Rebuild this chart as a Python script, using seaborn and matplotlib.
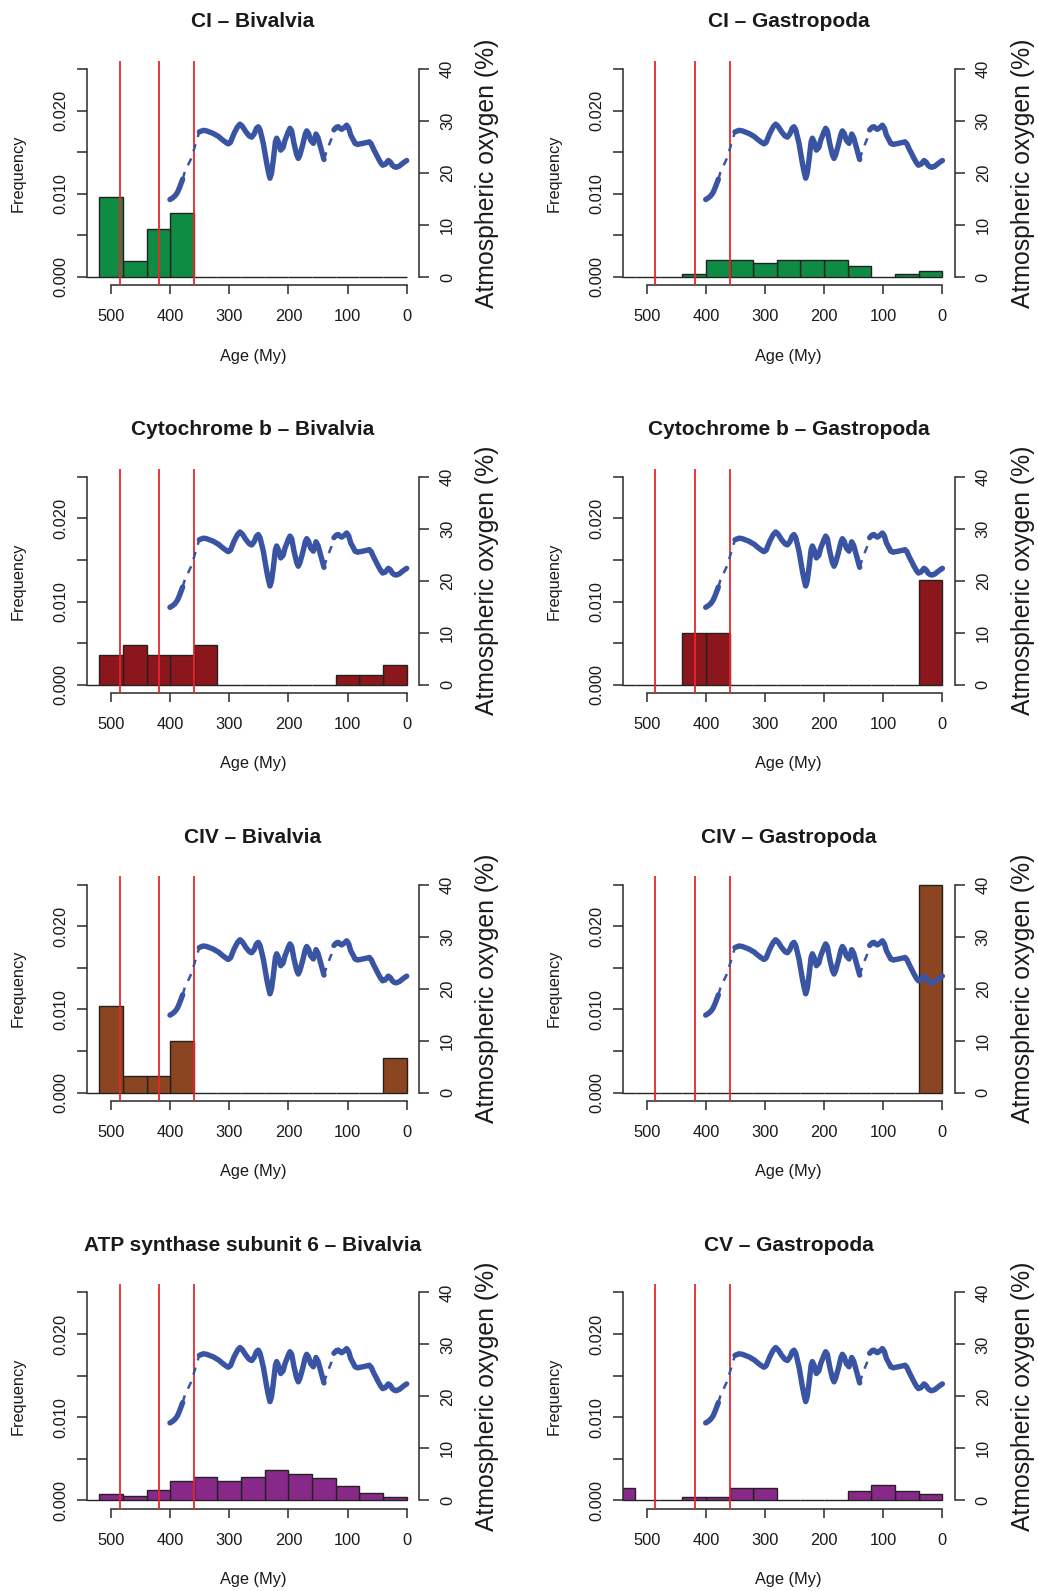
import matplotlib
matplotlib.use("Agg")
import matplotlib.pyplot as plt
import numpy as np
import pandas as pd
import seaborn as sns

# ---------------- data ----------------
BIN_EDGES = [560, 520, 480, 440, 400, 360, 320, 280, 240, 200, 160, 120, 80, 40, 0]

# density per 40-My bin, oldest (560-520) to youngest (40-0)
ci_bivalvia = [0, 0.00959, 0.00193, 0.00574, 0.0077, 0, 0, 0, 0, 0, 0, 0, 0, 0]
ci_gastropoda = [0, 0, 0, 0.00032, 0.0020, 0.0020, 0.00165, 0.0020, 0.0020, 0.0020, 0.0013, 0, 0.00032, 0.00068]
cytb_bivalvia = [0, 0.00358, 0.00478, 0.00358, 0.00358, 0.00478, 0, 0, 0, 0, 0, 0.00117, 0.00117, 0.00237]
cytb_gastropoda = [0, 0, 0, 0.00627, 0.00627, 0, 0, 0, 0, 0, 0, 0, 0, 0.01254]
civ_bivalvia = [0, 0.01043, 0.00205, 0.00205, 0.00626, 0, 0, 0, 0, 0, 0, 0, 0, 0.00417]
civ_gastropoda = [0, 0, 0, 0, 0, 0, 0, 0, 0, 0, 0, 0, 0, 0.025]
atp6_bivalvia = [0, 0.00072, 0.00056, 0.00121, 0.00237, 0.00281, 0.00233, 0.00277, 0.00362, 0.00314, 0.00265, 0.00173, 0.00092, 0.00036]
cv_gastropoda = [0.00144, 0, 0, 0.0004, 0.0004, 0.00144, 0.00144, 0, 0, 0, 0.00108, 0.00181, 0.00108, 0.00072]

titles = ["CI \u2013 Bivalvia", "CI \u2013 Gastropoda",
          "Cytochrome b \u2013 Bivalvia", "Cytochrome b \u2013 Gastropoda",
          "CIV \u2013 Bivalvia", "CIV \u2013 Gastropoda",
          "ATP synthase subunit 6 \u2013 Bivalvia", "CV \u2013 Gastropoda"]
series = [ci_bivalvia, ci_gastropoda, cytb_bivalvia, cytb_gastropoda,
          civ_bivalvia, civ_gastropoda, atp6_bivalvia, cv_gastropoda]
row_colors = ["#0E8C44", "#8B161B", "#8B4520", "#88298A"]

# geological boundaries (My)
boundaries = [485.4, 419.2, 358.9]

# atmospheric oxygen curve (%), split in solid / dashed segments
o2_solid1_age = [400.3, 396, 391.9, 388, 384.5, 378.9]
o2_solid1_pct = [14.9, 15.2, 15.6, 16.2, 17.1, 18.8]
o2_dash1_age = [378.9, 375, 369, 363.6, 357, 350.7]
o2_dash1_pct = [18.8, 20.3, 21.7, 23.0, 25.6, 27.9]
o2_solid2_age = [350.7, 344, 338.3, 327, 318, 312.9, 306, 301.7, 298, 292, 286, 282, 278,
                 271.8, 266, 262.1, 258, 254, 251, 248, 242.5, 236.8, 234, 231.2, 228.5,
                 225.6, 222, 219.9, 217, 213.1, 209, 205.8, 200, 197.4, 194.5, 190.6, 186,
                 183.3, 180.5, 175.9, 171.5, 169.1, 166, 162.4, 157.9, 155.5, 153.4, 150,
                 146.6, 139.9]
o2_solid2_pct = [27.9, 28.2, 28.1, 27.6, 27.0, 26.5, 25.9, 25.6, 25.9, 27.6, 28.9, 29.4, 29.0,
                 27.9, 27.1, 26.9, 27.5, 28.6, 28.9, 28.3, 25.7, 21.9, 20.3, 19.0, 20.0,
                 22.5, 26.0, 26.7, 26.0, 24.4, 24.9, 26.3, 28.0, 28.6, 28.1, 25.7, 23.5,
                 22.8, 23.5, 25.4, 27.5, 28.1, 27.6, 26.3, 25.7, 26.6, 27.5, 26.8,
                 25.4, 22.6]
o2_dash2_age = [139.9, 134.3, 126.8, 123]
o2_dash2_pct = [22.6, 24.6, 26.7, 28.3]
o2_solid3_age = [123, 119, 115.7, 113, 110, 105, 101.5, 98, 94.7, 90, 87.4, 83, 79, 74,
                 70.5, 66, 63.2, 60, 56.5, 52, 48, 44, 40.6, 36, 31.1, 27.5, 24.4, 21,
                 18.1, 13, 8.5, 4, 0]
o2_solid3_pct = [28.3, 28.8, 28.9, 28.6, 28.4, 28.8, 29.2, 28.6, 27.3, 26.3, 25.7, 25.5,
                 25.6, 25.7, 25.8, 25.9, 26.0, 25.6, 24.7, 23.7, 22.8, 22.0, 21.5, 21.7,
                 22.4, 22.1, 21.5, 21.2, 21.1, 21.3, 21.7, 22.1, 22.4]

freq_ticks = [0, 0.005, 0.010, 0.015, 0.020, 0.025]
freq_labels = ["0.000", "", "0.010", "", "0.020", ""]
age_ticks = [500, 400, 300, 200, 100, 0]
o2_ticks = [0, 10, 20, 30, 40]

# ---------------- style ----------------
sns.set_style("white")
plt.rcParams["font.family"] = ["Liberation Sans", "DejaVu Sans"]
TXT = "#1a1a1a"
AX = "#2a2a2a"
BLUE = "#3A54A4"
RED = "#E8262B"

W, H = 1038, 1591
fig = plt.figure(figsize=(W / 100, H / 100), dpi=100)

COL_DX = 535.7
ROW_DY = 407.8
X0, PW = 86.9, 332.1
Y0T, Y0B = 60.7, 285.3

bins_sorted = sorted(BIN_EDGES)
centers_desc = [(BIN_EDGES[i] + BIN_EDGES[i + 1]) / 2 for i in range(len(BIN_EDGES) - 1)]

for k, (title, vals) in enumerate(zip(titles, series)):
    r, c = divmod(k, 2)
    left = X0 + c * COL_DX
    top = Y0T + r * ROW_DY
    bottom = Y0B + r * ROW_DY
    ax = fig.add_axes([left / W, 1 - bottom / H, PW / W, (bottom - top) / H])
    ax.patch.set_alpha(0)

    df = pd.DataFrame({"age": centers_desc, "dens": vals})
    sns.histplot(data=df, x="age", weights="dens", bins=bins_sorted, stat="count",
                 color=row_colors[r], edgecolor="#222222", linewidth=1.0,
                 alpha=1.0, ax=ax, zorder=2)
    for b in boundaries:
        ax.axvline(b, color=RED, lw=1.3, zorder=3)

    ax.set_xlim(540.8, -20.8)
    ax.set_ylim(-0.001, 0.026)
    ax.set_xlabel("")
    ax.set_ylabel("")
    for s in ["top", "right"]:
        ax.spines[s].set_visible(False)
    ax.spines["left"].set_bounds(0, 0.025)
    ax.spines["bottom"].set_bounds(0, 500)
    for s in ["left", "bottom"]:
        ax.spines[s].set_color(AX)
        ax.spines[s].set_linewidth(1.1)
    ax.set_xticks(age_ticks)
    ax.set_xticklabels([str(a) for a in age_ticks])
    ax.set_yticks(freq_ticks)
    ax.set_yticklabels(freq_labels, rotation=90, va="center", ha="right")
    ax.tick_params(axis="x", direction="out", length=6.7, width=1.1, color=AX,
                   labelsize=11.8, labelcolor=TXT, pad=10.5, bottom=True)
    ax.tick_params(axis="y", direction="out", length=7.2, width=1.1, color=AX,
                   labelsize=11.8, labelcolor=TXT, pad=6.0, left=True)
    ax.grid(False)

    ax2 = ax.twinx()
    ax2.set_ylim(-1.6, 41.6)
    for s in ["top", "left", "bottom"]:
        ax2.spines[s].set_visible(False)
    ax2.spines["right"].set_bounds(0, 40)
    ax2.spines["right"].set_color(AX)
    ax2.spines["right"].set_linewidth(1.1)
    ax2.set_yticks(o2_ticks)
    ax2.set_yticklabels([str(t) for t in o2_ticks], rotation=90, va="center", ha="left")
    ax2.tick_params(axis="y", direction="out", length=7.2, width=1.1, color=AX,
                    labelsize=11.8, labelcolor=TXT, pad=8.0, right=True)
    ax2.grid(False)

    for a_, p_ in [(o2_solid1_age, o2_solid1_pct), (o2_solid2_age, o2_solid2_pct),
                   (o2_solid3_age, o2_solid3_pct)]:
        sns.lineplot(x=a_, y=p_, sort=False, ax=ax2, color=BLUE, lw=3.9,
                     solid_capstyle="round", solid_joinstyle="round", zorder=4)
    for a_, p_ in [(o2_dash1_age, o2_dash1_pct), (o2_dash2_age, o2_dash2_pct)]:
        ln = ax2.plot(a_, p_, color=BLUE, lw=1.8, zorder=4)[0]
        ln.set_dashes((3, 3))
    ax2.set_xlim(540.8, -20.8)

    cx = left + PW / 2
    fig.text(cx / W, 1 - (21.7 + r * ROW_DY) / H, title, ha="center", va="center",
             fontsize=15, fontweight="bold", color=TXT)
    fig.text(cx / W, 1 - (356 + r * ROW_DY) / H, "Age (My)", ha="center", va="center",
             fontsize=11.8, color=TXT)
    fig.text((18 + c * COL_DX) / W, 1 - (173 + r * ROW_DY) / H, "Frequency",
             ha="center", va="center", rotation=90, fontsize=11.8, color=TXT)
    fig.text((487 + c * COL_DX) / W, 1 - (173 + r * ROW_DY) / H, "Atmospheric oxygen (%)",
             ha="center", va="center", rotation=90, fontsize=17.8, color=TXT)

fig.savefig("out.png", dpi=100, facecolor="white")
